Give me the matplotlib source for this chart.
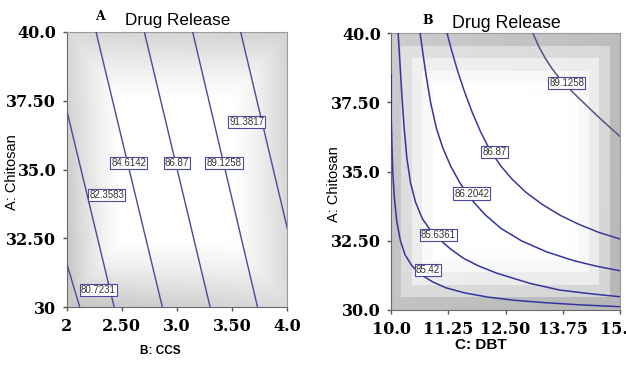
import numpy as np
import matplotlib
matplotlib.use("Agg")
import matplotlib.pyplot as plt

# ---- panel A: Chitosan vs CCS ----
a_levels = ["80.7231", "82.3583", "84.6142", "86.87", "89.1258", "91.3817"]
a_line_x = [[2.0, 2.118], [2.0, 2.43], [2.266, 2.867], [2.704, 3.30],
            [3.142, 3.73], [3.577, 4.0]]
a_line_y = [[31.59, 30.0], [37.16, 30.0], [40.0, 30.0], [40.0, 30.0],
            [40.0, 30.0], [40.0, 32.86]]
a_label_x = [2.287, 2.363, 2.562, 3.0, 3.426, 3.632]
a_label_y = [30.62, 34.07, 35.23, 35.23, 35.23, 36.72]
a_xticks = [2.0, 2.5, 3.0, 3.5, 4.0]
a_xticklabels = ["2", "2.50", "3.0", "3.50", "4.0"]
a_yticks = [30.0, 32.5, 35.0, 37.5, 40.0]
a_yticklabels = ["30", "32.50", "35.0", "37.50", "40.0"]

# ---- panel B: Chitosan vs DBT ----
b_levels = ["85.42", "85.6361", "86.2042", "86.87", "89.1258"]
b_line_x = [
    [10.0, 10.0, 10.015, 10.035, 10.07, 10.12, 10.2, 10.3, 10.45, 10.65, 10.9,
     11.2, 11.6, 12.1, 12.7, 13.4, 14.2, 15.0],
    [10.15, 10.19, 10.23, 10.28, 10.34, 10.42, 10.53, 10.68, 10.85, 11.07, 11.3,
     11.58, 11.9, 12.31, 13.04, 13.69, 14.4, 15.0],
    [10.63, 10.69, 10.76, 10.86, 10.99, 11.13, 11.3, 11.5, 11.75, 12.05, 12.4,
     12.85, 13.4, 14.0, 14.5, 15.0],
    [11.22, 11.33, 11.45, 11.6, 11.77, 11.96, 12.17, 12.4, 12.65, 12.95, 13.3,
     13.7, 14.1, 14.55, 15.0],
    [13.1, 13.22, 13.37, 13.52, 13.68, 13.86, 14.06, 14.28, 14.52, 14.76, 15.0],
]
b_line_y = [
    [38.5, 36.9, 35.9, 34.9, 34.0, 33.2, 32.5, 32.0, 31.6, 31.28, 31.02,
     30.8, 30.62, 30.47, 30.35, 30.26, 30.18, 30.12],
    [40.0, 38.9, 37.8, 36.6, 35.5, 34.6, 33.9, 33.3, 32.9, 32.53, 32.2,
     31.87, 31.6, 31.33, 30.96, 30.72, 30.58, 30.48],
    [40.0, 39.3, 38.5, 37.5, 36.55, 35.85, 35.2, 34.6, 34.0, 33.45, 32.95,
     32.5, 32.1, 31.78, 31.58, 31.42],
    [40.0, 39.33, 38.65, 37.9, 37.15, 36.42, 35.75, 35.2, 34.72, 34.25, 33.82,
     33.42, 33.1, 32.8, 32.57],
    [40.0, 39.55, 39.1, 38.72, 38.38, 38.06, 37.73, 37.38, 37.0, 36.64, 36.28],
]
b_label_x = [10.80, 11.03, 11.76, 12.26, 13.84]
b_label_y = [31.45, 32.71, 34.21, 35.70, 38.20]
b_line_colors = ["#3434a0", "#3434a0", "#3434a0", "#3a3a98", "#55557f"]
b_xticks = [10.0, 11.25, 12.5, 13.75, 15.0]
b_xticklabels = ["10.0", "11.25", "12.50", "13.75", "15.0"]
b_yticks = [30.0, 32.5, 35.0, 37.5, 40.0]
b_yticklabels = ["30.0", "32.50", "35.0", "37.50", "40.0"]

W, H = 626, 367
fig = plt.figure(figsize=(W / 100, H / 100), dpi=100)


def px_axes(left, top, right, bottom):
    return fig.add_axes([left / W, 1 - bottom / H, (right - left) / W, (bottom - top) / H])


def shade(ax, xlim, ylim, corners, res, interp, start, power):
    # grey vignette behind the contours
    u = np.linspace(0, 1, res)
    X, Y = np.meshgrid(u, u)
    edge = np.maximum(np.abs(2 * X - 1), np.abs(2 * Y - 1))
    g = np.clip((edge - start) / (1 - start), 0, 1) ** power
    bl, br, tl, tr = corners
    d = bl * (1 - X) * (1 - Y) + br * X * (1 - Y) + tl * (1 - X) * Y + tr * X * Y
    ax.imshow(1 - d * g, cmap="gray", vmin=0, vmax=1, origin="lower",
              extent=[xlim[0], xlim[1], ylim[0], ylim[1]], aspect="auto",
              interpolation=interp, zorder=0)


def style(ax, xticks, xlabels, yticks, ylabels):
    for s in ["top", "right"]:
        ax.spines[s].set_color("#9a9a9a")
    for s in ["left", "bottom"]:
        ax.spines[s].set_color("#6a6a6a")
    ax.set_xticks(xticks, xlabels)
    ax.set_yticks(yticks, ylabels)
    ax.tick_params(direction="out", length=3, width=1, color="#555555")
    ax.tick_params(axis="x", pad=5)
    ax.tick_params(axis="y", pad=4.5)
    for lab in ax.get_xticklabels() + ax.get_yticklabels():
        lab.set_fontfamily("DejaVu Serif")
        lab.set_fontweight("bold")
        lab.set_fontsize(11.5)


def labels(ax, xs, ys, texts):
    for x, y, t in zip(xs, ys, texts):
        ax.text(x, y, t, ha="center", va="center", fontsize=7, color="#333333",
                family="Liberation Sans", zorder=4,
                bbox=dict(boxstyle="square,pad=0.12", fc="white", ec="#4a4aa0", lw=0.8))


# panel A
axA = px_axes(66.7, 32, 287.3, 307)
shade(axA, (2, 4), (30, 40), (0.22, 0.14, 0.15, 0.17), 40, "bilinear", 0.5, 1.3)
for xs, ys in zip(a_line_x, a_line_y):
    axA.plot(xs, ys, color="#4a4a9c", lw=1.0, zorder=3)
labels(axA, a_label_x, a_label_y, a_levels)
axA.set_xlim(2, 4)
axA.set_ylim(30, 40)
style(axA, a_xticks, a_xticklabels, a_yticks, a_yticklabels)

# panel B
axB = px_axes(391.3, 33.3, 619.7, 310)
shade(axB, (10, 15), (30, 40), (0.24, 0.28, 0.2, 0.26), 22, "nearest", 0.55, 2.2)
for xs, ys, c in zip(b_line_x, b_line_y, b_line_colors):
    axB.plot(xs, ys, color=c, lw=1.1, zorder=3)
labels(axB, b_label_x, b_label_y, b_levels)
axB.set_xlim(10, 15)
axB.set_ylim(30, 40)
style(axB, b_xticks, b_xticklabels, b_yticks, b_yticklabels)

# titles and axis labels
fig.text(100 / W, 1 - 17 / H, "A", family="DejaVu Serif", weight="bold", size=9,
         ha="center", va="center")
fig.text(177.5 / W, 1 - 21 / H, "Drug Release", family="Liberation Sans", size=12.3,
         ha="center", va="center")
fig.text(428 / W, 1 - 20 / H, "B", family="DejaVu Serif", weight="bold", size=9,
         ha="center", va="center")
fig.text(506.5 / W, 1 - 23 / H, "Drug Release", family="Liberation Sans", size=12.8,
         ha="center", va="center")

fig.text(12 / W, 1 - 172 / H, "A: Chitosan", family="Liberation Sans", size=10.5,
         rotation=90, ha="center", va="center")
fig.text(334.5 / W, 1 - 184 / H, "A: Chitosan", family="Liberation Sans", size=10.5,
         rotation=90, ha="center", va="center")
fig.text(160 / W, 1 - 351 / H, "B: CCS", family="Liberation Sans", weight="bold",
         size=8.5, ha="center", va="center")
fig.text(480.5 / W, 1 - 345 / H, "C: DBT", family="Liberation Sans", weight="bold",
         size=11, ha="center", va="center")

fig.savefig("out.png", dpi=100)
